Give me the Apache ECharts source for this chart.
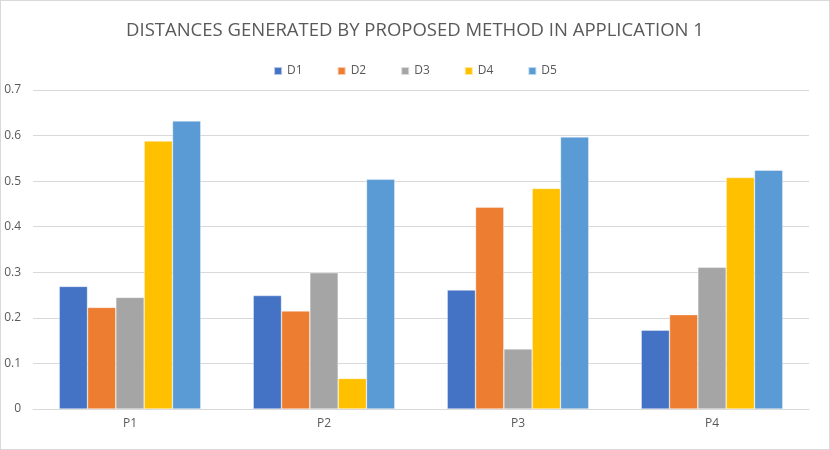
<!DOCTYPE html>
<html>
<head>
<meta charset="utf-8">
<script src="https://cdn.jsdelivr.net/npm/echarts@6/dist/echarts.min.js"></script>
<style>
  html, body { margin: 0; padding: 0; background: #fff; }
  #main { width: 828px; height: 448px; border: 1px solid #d9d9d9; }
</style>
</head>
<body>
<div id="main"></div>
<script>
// data
let categories = ['P1', 'P2', 'P3', 'P4'];
let seriesNames = ['D1', 'D2', 'D3', 'D4', 'D5'];
let d1 = [0.269, 0.249, 0.261, 0.173];
let d2 = [0.223, 0.215, 0.443, 0.207];
let d3 = [0.245, 0.299, 0.132, 0.311];
let d4 = [0.588, 0.067, 0.484, 0.508];
let d5 = [0.632, 0.504, 0.597, 0.524];
let yTicks = [0, 0.1, 0.2, 0.3, 0.4, 0.5, 0.6, 0.7];

let colors = ['#4472C4', '#ED7D31', '#A5A5A5', '#FFC000', '#5B9BD5'];
let values = [d1, d2, d3, d4, d5];

let myChart = echarts.init(document.getElementById('main'));

let option = {
    color: colors,
    animation: false,
    title: {
        text: 'DISTANCES GENERATED BY PROPOSED METHOD IN APPLICATION 1',
        left: 'center',
        top: 15,
        textStyle: {
            fontFamily: 'Open Sans',
            fontSize: 18.5,
            fontWeight: 'normal',
            color: '#595959'
        }
    },
    legend: {
        data: seriesNames,
        top: 59,
        left: 'center',
        itemWidth: 8,
        itemHeight: 8,
        itemGap: 34,
        icon: 'rect',
        textStyle: {
            fontFamily: 'Open Sans',
            fontSize: 12,
            color: '#595959'
        }
    },
    grid: {
        left: 32,
        right: 20,
        top: 89,
        bottom: 40
    },
    xAxis: {
        type: 'category',
        data: categories,
        axisTick: { show: false },
        axisLine: { lineStyle: { color: '#d9d9d9' } },
        axisLabel: {
            color: '#595959',
            fontFamily: 'Open Sans',
            fontSize: 12,
            margin: 9
        }
    },
    yAxis: {
        type: 'value',
        min: yTicks[0],
        max: yTicks[yTicks.length - 1],
        interval: 0.1,
        axisLine: { show: false },
        axisTick: { show: false },
        splitLine: { lineStyle: { color: '#d9d9d9' } },
        axisLabel: {
            color: '#595959',
            fontFamily: 'Open Sans',
            fontSize: 12,
            margin: 12,
            formatter: function (v) { return String(Math.round(v * 10) / 10); }
        }
    },
    series: seriesNames.map(function (name, i) {
        return {
            name: name,
            type: 'bar',
            data: values[i],
            barGap: '0%',
            barCategoryGap: '27%',
            itemStyle: {
                borderColor: 'rgba(255,255,255,0.6)',
                borderWidth: 0.6
            }
        };
    })
};

myChart.setOption(option);
</script>
</body>
</html>
